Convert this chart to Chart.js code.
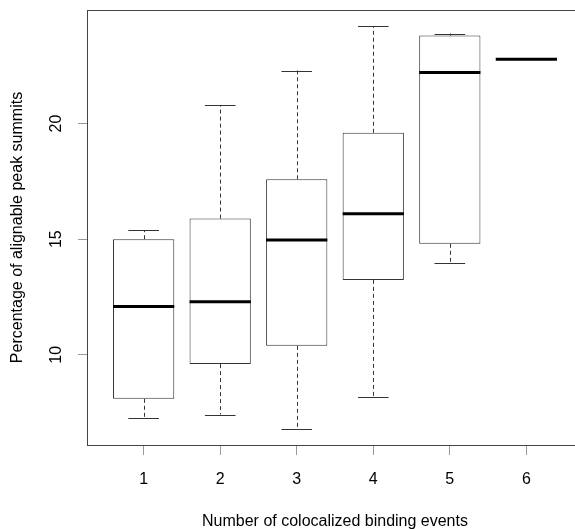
<!DOCTYPE html>
<html>
<head>
<meta charset="utf-8">
<script src="https://cdn.jsdelivr.net/npm/chart.js@4.4.1/dist/chart.umd.min.js"></script>
<style>
  html, body { margin: 0; padding: 0; background: #fff; overflow: hidden; }
  #wrap { width: 600px; height: 529px; }
</style>
</head>
<body>
<div id="wrap"><canvas id="c" width="600" height="529"></canvas></div>
<script>
// Number of colocalized binding events (groups)
const groups = [1, 2, 3, 4, 5, 6];
// Five-number summaries per group (percent of alignable peak summits)
const lowerWhisker = [7.29, 7.42, 6.80, 8.20, 13.99, 22.78];
const lowerQuartile = [8.10, 9.60, 10.39, 13.24, 14.80, 22.78];
const medians = [12.09, 12.30, 14.97, 16.10, 22.20, 22.78];
const upperQuartile = [15.00, 15.89, 17.59, 19.60, 23.80, 22.78];
const upperWhisker = [15.40, 20.79, 22.29, 24.21, 23.89, 22.78];
// Axis ticks
const yTickValues = [10, 15, 20];
const xTickValues = [1, 2, 3, 4, 5, 6];

const FONT = 'Liberation Sans, Arial, Helvetica, sans-serif';
const FONT_SIZE = 16;

// y range padded by 4% on each side, the usual boxplot convention
const dataMin = Math.min(...lowerWhisker);
const dataMax = Math.max(...upperWhisker);
const pad = (dataMax - dataMin) * 0.04;
const yMin = dataMin - pad, yMax = dataMax + pad;
// x range: half a slot on each side of the groups, padded by 4%
const xSpan = groups.length;
const xMin = 0.5 - xSpan * 0.04, xMax = groups.length + 0.5 + xSpan * 0.04;

const BOX_W = 0.8;   // box width in x units
const CAP_W = 0.4;   // whisker cap width in x units

const boxPlotPlugin = {
  id: 'boxParts',
  afterDatasetsDraw(chart) {
    const { ctx, scales: { x, y } } = chart;
    ctx.save();
    groups.forEach((g, i) => {
      const cx = Math.round(x.getPixelForValue(g)) + 0.5;
      const capL = x.getPixelForValue(g - CAP_W / 2);
      const capR = x.getPixelForValue(g + CAP_W / 2);
      const boxL = x.getPixelForValue(g - BOX_W / 2);
      const boxR = x.getPixelForValue(g + BOX_W / 2);
      // dashed whiskers
      ctx.strokeStyle = '#333';
      ctx.lineWidth = 1;
      ctx.setLineDash([4, 3]);
      ctx.beginPath();
      ctx.moveTo(cx, y.getPixelForValue(upperQuartile[i]));
      ctx.lineTo(cx, y.getPixelForValue(upperWhisker[i]));
      ctx.moveTo(cx, y.getPixelForValue(lowerQuartile[i]));
      ctx.lineTo(cx, y.getPixelForValue(lowerWhisker[i]));
      ctx.stroke();
      // whisker caps
      ctx.setLineDash([]);
      if (upperWhisker[i] !== upperQuartile[i] || lowerWhisker[i] !== lowerQuartile[i]) {
        ctx.beginPath();
        const yu = Math.round(y.getPixelForValue(upperWhisker[i])) + 0.5;
        const yl = Math.round(y.getPixelForValue(lowerWhisker[i])) + 0.5;
        ctx.moveTo(capL, yu); ctx.lineTo(capR, yu);
        ctx.moveTo(capL, yl); ctx.lineTo(capR, yl);
        ctx.stroke();
      }
      // median
      ctx.strokeStyle = '#000';
      ctx.lineWidth = 3;
      ctx.beginPath();
      const ym = y.getPixelForValue(medians[i]);
      ctx.moveTo(boxL, ym); ctx.lineTo(boxR, ym);
      ctx.stroke();
    });
    ctx.restore();
  },
  afterDraw(chart) {
    const { ctx, chartArea: a, scales: { y } } = chart;
    ctx.save();
    // plot frame
    ctx.strokeStyle = '#444';
    ctx.lineWidth = 1;
    ctx.strokeRect(Math.round(a.left) + 0.5, Math.round(a.top) + 0.5,
                   Math.round(a.right - a.left), Math.round(a.bottom - a.top));
    // y tick labels, written parallel to the axis
    ctx.fillStyle = '#000';
    ctx.font = FONT_SIZE + 'px ' + FONT;
    ctx.textAlign = 'center';
    ctx.textBaseline = 'middle';
    yTickValues.forEach(v => {
      ctx.save();
      ctx.translate(57, y.getPixelForValue(v));
      ctx.rotate(-Math.PI / 2);
      ctx.fillText(String(v), 0, 0);
      ctx.restore();
    });
    ctx.restore();
  }
};

new Chart(document.getElementById('c'), {
  type: 'bar',
  data: {
    datasets: [{
      data: groups.map((g, i) => ({ x: g, y: [lowerQuartile[i], upperQuartile[i]] })),
      backgroundColor: '#fff',
      borderColor: '#333',
      borderWidth: 1,
      borderSkipped: false,
      barPercentage: BOX_W,
      categoryPercentage: 1
    }]
  },
  options: {
    responsive: false,
    animation: false,
    events: [],
    layout: { padding: { top: 10, right: 17, left: 0, bottom: 0 } },
    plugins: { legend: { display: false }, tooltip: { enabled: false } },
    scales: {
      x: {
        type: 'linear',
        offset: false,
        min: xMin, max: xMax,
        afterBuildTicks: s => { s.ticks = xTickValues.map(v => ({ value: v })); },
        afterFit: s => { s.height = 84; },
        border: { display: false },
        grid: { offset: false, drawOnChartArea: false, drawTicks: true, tickLength: 10, color: '#999' },
        ticks: { color: '#000', font: { family: FONT, size: FONT_SIZE }, padding: 15, maxRotation: 0, autoSkip: false },
        title: {
          display: true, text: 'Number of colocalized binding events',
          color: '#000', font: { family: FONT, size: FONT_SIZE }, padding: { top: 0, bottom: -2 }
        }
      },
      y: {
        min: yMin, max: yMax,
        afterBuildTicks: s => { s.ticks = yTickValues.map(v => ({ value: v })); },
        afterFit: s => { s.width = 87; },
        border: { display: false },
        grid: { drawOnChartArea: false, drawTicks: true, tickLength: 9, color: '#999' },
        ticks: { display: false },
        title: {
          display: true, text: 'Percentage of alignable peak summits',
          color: '#000', font: { family: FONT, size: FONT_SIZE }, padding: { top: 8, bottom: 0 }
        }
      }
    }
  },
  plugins: [boxPlotPlugin]
});
</script>
</body>
</html>
